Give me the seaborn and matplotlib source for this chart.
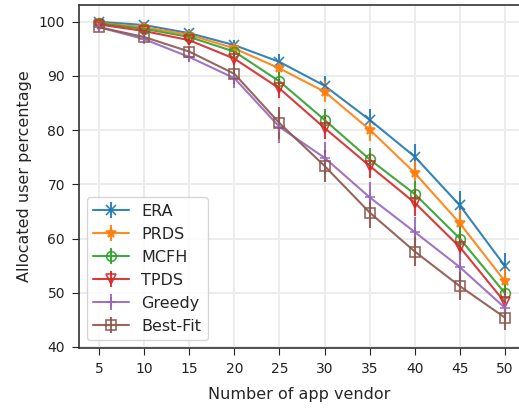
import numpy as np
import seaborn as sns
import matplotlib
matplotlib.use("Agg")
import matplotlib.pyplot as plt

# ---------- dados ----------
vendors = [5, 10, 15, 20, 25, 30, 35, 40, 45, 50]

era    = [100.0, 99.4, 97.9, 95.7, 92.6, 88.2, 81.9, 75.1, 66.1, 54.9]
prds   = [99.8, 99.0, 97.6, 95.1, 91.4, 87.1, 80.1, 72.1, 62.8, 52.1]
mcfh   = [99.7, 98.7, 97.2, 94.5, 89.0, 81.9, 74.6, 68.2, 60.0, 49.9]
tpds   = [99.5, 98.3, 96.6, 93.2, 87.7, 80.4, 73.4, 66.6, 58.4, 48.2]
greedy = [99.0, 96.8, 93.5, 89.6, 80.6, 74.9, 67.6, 61.2, 54.7, 47.2]
bestfit = [99.0, 97.2, 94.5, 90.4, 81.3, 73.4, 64.8, 57.6, 51.2, 45.4]

err_era    = [0.5, 0.6, 0.8, 1.0, 1.5, 1.8, 2.0, 2.3, 2.6, 2.4]
err_prds   = [0.5, 0.6, 0.8, 1.0, 1.6, 1.9, 2.1, 2.3, 2.5, 2.4]
err_mcfh   = [0.5, 0.6, 0.8, 1.1, 1.7, 2.0, 2.2, 2.4, 2.5, 2.4]
err_tpds   = [0.5, 0.6, 0.9, 1.2, 1.8, 2.1, 2.3, 2.4, 2.5, 2.4]
err_greedy = [0.5, 0.7, 1.0, 1.8, 3.0, 3.0, 2.8, 2.7, 2.6, 2.3]
err_bestfit = [0.5, 0.7, 1.0, 1.8, 3.0, 2.9, 2.8, 2.6, 2.6, 2.3]

labels = ["ERA", "PRDS", "MCFH", "TPDS", "Greedy", "Best-Fit"]
series = [era, prds, mcfh, tpds, greedy, bestfit]
errors = [err_era, err_prds, err_mcfh, err_tpds, err_greedy, err_bestfit]

# ---------- estilo ----------
sns.set_style("ticks")
plt.rcParams['font.family'] = ['DejaVu Sans']
cores = sns.color_palette("tab10", 6)
marcadores = ["x", "*", "o", "v", "+", "s"]
preenchido = [True, True, False, False, True, False]

fig = plt.figure(figsize=(5.19, 4.08), dpi=100)
ax = fig.add_axes([79 / 519, 1 - 348 / 408, 440 / 519, 343 / 408])

for nome, y, e, c, m, f in zip(labels, series, errors, cores, marcadores, preenchido):
    ax.errorbar(vendors, y, yerr=e, color=c, marker=m, markersize=7,
                markerfacecolor=c if f else "none", markeredgecolor=c,
                markeredgewidth=1.2, linewidth=1.5, elinewidth=1.5,
                capsize=0, alpha=0.9, label=nome)

ax.set_xlim(2.78, 51.55)
ax.set_ylim(39.8, 103.1)
ax.set_xticks(vendors)
ax.set_yticks([40, 50, 60, 70, 80, 90, 100])
ax.grid(True, color="#ececec", linewidth=1.4)
ax.set_axisbelow(True)

for lado in ["left", "top", "bottom"]:
    ax.spines[lado].set_color("#333333")
    ax.spines[lado].set_linewidth(1.2)
ax.spines["right"].set_visible(False)
ax.tick_params(labelsize=10, colors="#222222", length=5, pad=5)

ax.set_xlabel("Number of app vendor", fontsize=11.5, labelpad=8)
ax.set_ylabel("Allocated user percentage", fontsize=11.5, labelpad=5)
ax.legend(loc="lower left", fontsize=11.5, handlelength=2.2)

fig.savefig("out.png", dpi=100)
